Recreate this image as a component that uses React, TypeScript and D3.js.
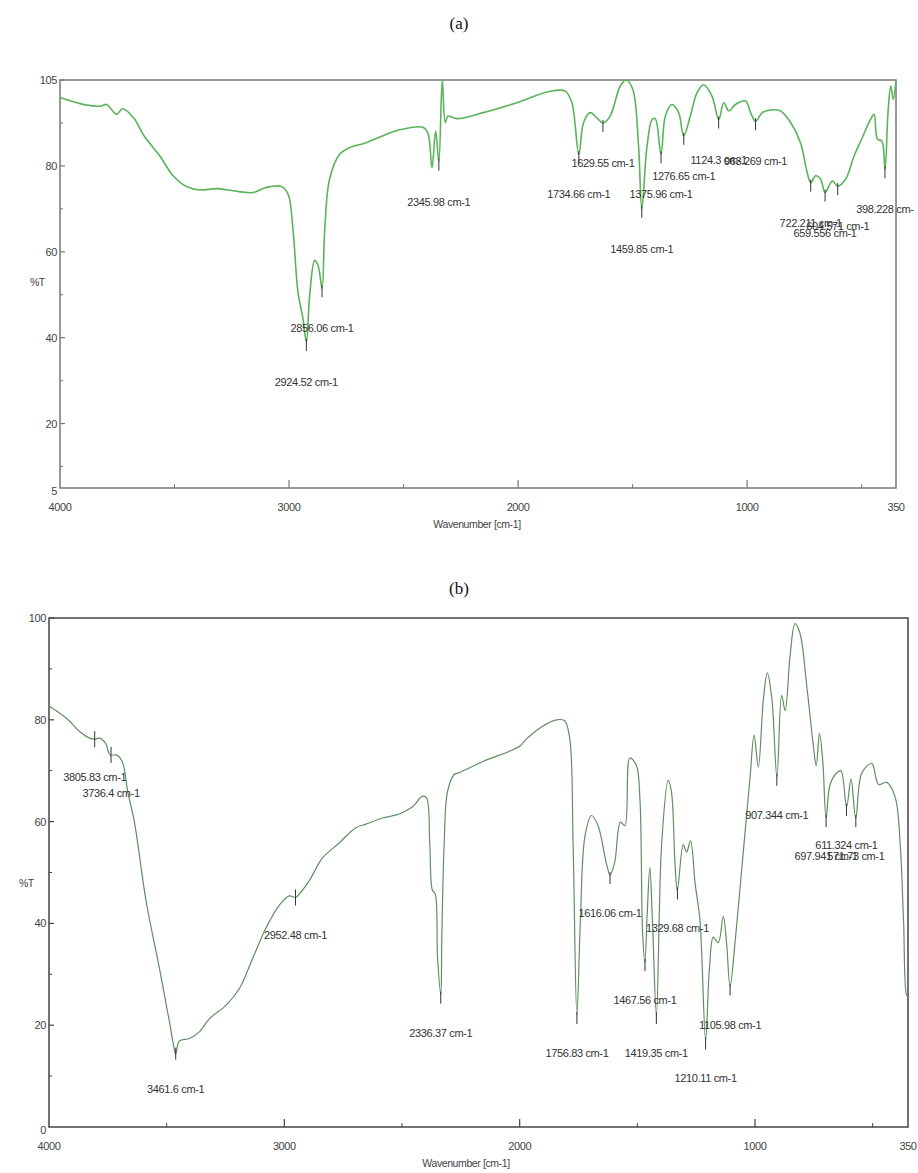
import React from 'react';
import * as d3 from 'd3';

// ---- panel (a) spectrum ----
const wavenumberA = [4000, 3913, 3826, 3797, 3753, 3727, 3673, 3637, 3564, 3506, 3448, 3390, 3317, 3244, 3157, 3099, 3033, 3004, 2983, 2961, 2939, 2924, 2910, 2888, 2873, 2856, 2844, 2823, 2779, 2735, 2663, 2590, 2517, 2416, 2394, 2376, 2360, 2346, 2331, 2318, 2306, 2268, 2152, 2006, 1860, 1794, 1765, 1735, 1714, 1685, 1656, 1630, 1598, 1554, 1528, 1499, 1474, 1460, 1437, 1415, 1401, 1376, 1357, 1328, 1299, 1277, 1248, 1219, 1190, 1153, 1124, 1102, 1080, 1051, 1007, 985, 963, 934, 898, 854, 810, 767, 738, 722, 701, 679, 660, 628, 605, 570, 533, 497, 468, 446, 431, 412, 398, 385, 373, 362, 350];
const transmittanceA = [95.9, 94.5, 93.9, 94.3, 92.0, 93.3, 90.8, 87.3, 82.3, 77.7, 75.2, 74.4, 74.7, 74.2, 73.8, 75.0, 75.2, 73.4, 65.3, 50.6, 44.4, 39.0, 49.8, 58.0, 56.8, 51.5, 65.3, 76.9, 82.7, 84.3, 85.4, 87.0, 88.4, 89.0, 87.7, 79.6, 88.1, 81.0, 100, 90.1, 91.6, 91.0, 92.4, 94.7, 97.4, 97.4, 94.7, 82.7, 90.1, 92.4, 91.2, 90.0, 91.6, 98.6, 100, 97.8, 84.6, 70.0, 84.6, 90.8, 91.0, 82.7, 91.6, 94.3, 92.4, 87.0, 91.6, 97.0, 98.9, 96.2, 90.8, 94.7, 92.8, 94.3, 95.1, 92.4, 90.4, 92.4, 93.0, 92.8, 90.1, 85.4, 78.5, 76.1, 77.7, 76.9, 73.8, 76.5, 75.3, 76.9, 82.3, 86.6, 90.1, 92.0, 86.2, 85.8, 79.2, 92.4, 98.6, 95.5, 100];
const peakWnA = [2924.52, 2856.06, 2345.98, 1734.66, 1629.55, 1459.85, 1375.96, 1276.65, 1124.3, 963.269, 722.211, 604.571, 659.556, 398.228];
const peakTA = [39.0, 51.5, 81.0, 82.7, 90.0, 70.0, 82.7, 87.0, 90.8, 90.4, 76.1, 75.3, 73.8, 79.2];
const peakLabelA = ['2924.52 cm-1', '2856.06 cm-1', '2345.98 cm-1', '1734.66 cm-1', '1629.55 cm-1', '1459.85 cm-1', '1375.96 cm-1', '1276.65 cm-1', '1124.3 cm-1', '963.269 cm-1', '722.211 cm-1', '604.571 cm-1', '659.556 cm-1', '398.228 cm-'];
const yTicksA = [5, 20, 40, 60, 80, 100];
const yTickLabelsA = ['5', '20', '40', '60', '80', '105'];

// ---- panel (b) spectrum ----
const wavenumberB = [4000, 3926, 3870, 3827, 3806, 3785, 3760, 3740, 3714, 3689, 3665, 3637, 3587, 3530, 3488, 3471, 3462, 3446, 3403, 3361, 3318, 3248, 3191, 3134, 3078, 3021, 2979, 2952, 2936, 2894, 2837, 2767, 2696, 2653, 2583, 2512, 2455, 2413, 2396, 2382, 2371, 2359, 2349, 2335, 2331, 2321, 2307, 2279, 2257, 2156, 2000, 1972, 1901, 1844, 1809, 1787, 1773, 1757, 1742, 1723, 1695, 1667, 1631, 1616, 1596, 1572, 1553, 1532, 1504, 1489, 1478, 1468, 1458, 1447, 1436, 1419, 1397, 1369, 1355, 1340, 1330, 1305, 1291, 1274, 1255, 1234, 1210, 1194, 1177, 1156, 1135, 1121, 1106, 1085, 1050, 1021, 1004, 986, 965, 948, 929, 907, 887, 872, 851, 830, 809, 780, 752, 740, 726, 712, 698, 681, 652, 635, 611, 592, 572, 546, 504, 475, 440, 404, 383, 369, 355, 350];
const transmittanceB = [82.7, 80.3, 77.7, 76.4, 76.2, 76.4, 75.4, 73.1, 73.1, 71.8, 65.8, 59.9, 44.3, 31.0, 20.6, 16.1, 14.3, 16.9, 17.4, 18.7, 21.3, 23.9, 27.2, 33.2, 39.1, 43.6, 45.4, 45.1, 45.8, 48.4, 52.9, 55.8, 58.8, 59.5, 60.7, 61.5, 62.9, 65.0, 64.7, 55.5, 46.5, 45.8, 33.2, 26.0, 36.9, 55.5, 65.8, 69.2, 69.6, 71.8, 74.8, 76.2, 78.8, 80.0, 79.8, 76.2, 55.5, 22.0, 40.6, 57.0, 61.2, 59.2, 51.7, 49.5, 52.1, 59.9, 59.2, 72.5, 71.0, 64.4, 38.4, 32.4, 42.1, 51.0, 40.6, 22.0, 55.5, 68.1, 65.8, 51.7, 46.5, 55.5, 54.0, 56.2, 48.0, 40.6, 17.0, 31.0, 37.3, 36.2, 41.4, 36.2, 27.6, 36.2, 54.0, 68.8, 77.0, 70.7, 83.7, 89.2, 84.4, 68.8, 84.8, 81.8, 92.6, 98.9, 97.0, 86.6, 74.8, 71.0, 77.3, 71.8, 60.7, 67.3, 69.6, 70.0, 62.9, 68.4, 60.7, 69.6, 71.4, 67.3, 67.7, 64.7, 55.5, 40.6, 25.8, 25.8];
const peakWnB = [3805.83, 3736.4, 3461.6, 2952.48, 2335.37, 1756.83, 1616.06, 1467.56, 1419.35, 1329.68, 1210.11, 1105.98, 907.344, 697.941, 611.324, 571.73];
const peakTB = [76.2, 73.1, 15.0, 45.1, 26.0, 22.0, 49.5, 32.4, 22.0, 46.5, 17.0, 27.6, 68.8, 60.7, 62.9, 60.7];
const peakLabelB = ['3805.83 cm-1', '3736.4 cm-1', '3461.6 cm-1', '2952.48 cm-1', '2336.37 cm-1', '1756.83 cm-1', '1616.06 cm-1', '1467.56 cm-1', '1419.35 cm-1', '1329.68 cm-1', '1210.11 cm-1', '1105.98 cm-1', '907.344 cm-1', '697.941 cm-1', '611.324 cm-1', '571.73 cm-1'];
const crossPeaksB = [3805.83, 3736.4, 2952.48];
const yTicksB = [0, 20, 40, 60, 80, 100];
const yTickLabelsB = ['0', '20', '40', '60', '80', '100'];

const xTicks = [4000, 3000, 2000, 1000, 350];
const xMinor = [3500, 2500, 1500, 500];
const yMinor = [10, 30, 50, 70, 90];

const FONT = '"Liberation Sans", Arial, sans-serif';

type Props = {
  title: string;
  titleY: number;
  box: { left: number; right: number; top: number; bottom: number };
  yDomain: [number, number];
  yTicks: number[];
  yTickLabels: string[];
  wn: number[];
  t: number[];
  peakWn: number[];
  peakT: number[];
  peakLabel: string[];
  crosses: number[];
  lineColor: string;
  lineWidth: number;
  frameColor: string;
  labelDy: number;
  xLabelX: number;
  pctY: number;
};

function Spectrum(p: Props) {
  const { box } = p;
  const x = d3.scaleLinear().domain([4000, 350]).range([box.left, box.right]);
  const y = d3.scaleLinear().domain(p.yDomain).range([box.bottom, box.top]);
  const path = d3
    .line<number>()
    .x((_, i) => x(p.wn[i]))
    .y((d) => y(d))
    .curve(d3.curveCatmullRom.alpha(0.5))(p.t);

  return (
    <g>
      <text x={459} y={p.titleY} textAnchor="middle" dominantBaseline="central"
        fontFamily='"Liberation Serif", "Times New Roman", serif' fontSize={17} fill="#111">
        {p.title}
      </text>
      <rect x={box.left} y={box.top} width={box.right - box.left} height={box.bottom - box.top}
        fill="none" stroke={p.frameColor} strokeWidth={1.5} />
      {xTicks.filter((v) => v !== 4000 && v !== 350).map((v) => (
        <line key={'xt' + v} x1={x(v)} x2={x(v)} y1={box.bottom} y2={box.bottom - 8} stroke={p.frameColor} strokeWidth={1.2} />
      ))}
      {xMinor.map((v) => (
        <line key={'xm' + v} x1={x(v)} x2={x(v)} y1={box.bottom} y2={box.bottom - 4} stroke={p.frameColor} strokeWidth={1} />
      ))}
      {xTicks.map((v) => (
        <text key={'xl' + v} x={x(v)} y={box.bottom + 19} textAnchor="middle" dominantBaseline="central"
          fontFamily={FONT} fontSize={11} fill="#444" letterSpacing={-0.4}>
          {v}
        </text>
      ))}
      {p.yTicks.map((v, i) => (
        <g key={'yt' + v}>
          {i > 0 && (
            <line x1={box.left} x2={box.left + 5} y1={y(v)} y2={y(v)} stroke={p.frameColor} strokeWidth={1.2} />
          )}
          <text x={box.left - 3} y={y(v) + (i === 0 ? 3 : 0)} textAnchor="end" dominantBaseline="central"
            fontFamily={FONT} fontSize={11} fill="#444" letterSpacing={-0.4}>
            {p.yTickLabels[i]}
          </text>
        </g>
      ))}
      {yMinor.map((v) => (
        <line key={'ym' + v} x1={box.left} x2={box.left + 3} y1={y(v)} y2={y(v)} stroke={p.frameColor} strokeWidth={1} />
      ))}
      <text x={box.left - 30} y={p.pctY} dominantBaseline="central"
        fontFamily={FONT} fontSize={10.5} fill="#444" letterSpacing={-0.6}>
        %T
      </text>
      <text x={p.xLabelX} y={box.bottom + 36} textAnchor="middle" dominantBaseline="central"
        fontFamily={FONT} fontSize={10.5} fill="#444" letterSpacing={-0.4}>
        Wavenumber [cm-1]
      </text>
      <path d={path ?? ''} fill="none" stroke={p.lineColor} strokeWidth={p.lineWidth} strokeLinejoin="round" />
      {p.peakWn.map((w, i) => {
        const px = x(w);
        const py = y(p.peakT[i]);
        const cross = p.crosses.includes(w);
        return (
          <g key={'pk' + i}>
            <line x1={px} x2={px} y1={cross ? py - 8 : py - 3} y2={cross ? py + 8 : py + 9} stroke="#333" strokeWidth={1} />
            <text x={px} y={py + p.labelDy} textAnchor="middle" dominantBaseline="central"
              fontFamily={FONT} fontSize={11} fill="#333" letterSpacing={-0.35}>
              {p.peakLabel[i]}
            </text>
          </g>
        );
      })}
    </g>
  );
}

export default function App() {
  return (
    <svg width={918} height={1173} style={{ position: 'absolute', left: 0, top: 0, background: '#fff' }}>
      <Spectrum
        title="(a)"
        titleY={23}
        box={{ left: 60, right: 896, top: 80, bottom: 488 }}
        yDomain={[5, 100]}
        yTicks={yTicksA}
        yTickLabels={yTickLabelsA}
        wn={wavenumberA}
        t={transmittanceA}
        peakWn={peakWnA}
        peakT={peakTA}
        peakLabel={peakLabelA}
        crosses={[]}
        lineColor="#5ab45a"
        lineWidth={1.6}
        frameColor="#777"
        labelDy={40}
        xLabelX={477}
        pctY={282}
      />
      <Spectrum
        title="(b)"
        titleY={588}
        box={{ left: 49, right: 908, top: 618, bottom: 1127 }}
        yDomain={[0, 100]}
        yTicks={yTicksB}
        yTickLabels={yTickLabelsB}
        wn={wavenumberB}
        t={transmittanceB}
        peakWn={peakWnB}
        peakT={peakTB}
        peakLabel={peakLabelB}
        crosses={crossPeaksB}
        lineColor="#5f8f5f"
        lineWidth={1.2}
        frameColor="#444"
        labelDy={38}
        xLabelX={466}
        pctY={883}
      />
    </svg>
  );
}
